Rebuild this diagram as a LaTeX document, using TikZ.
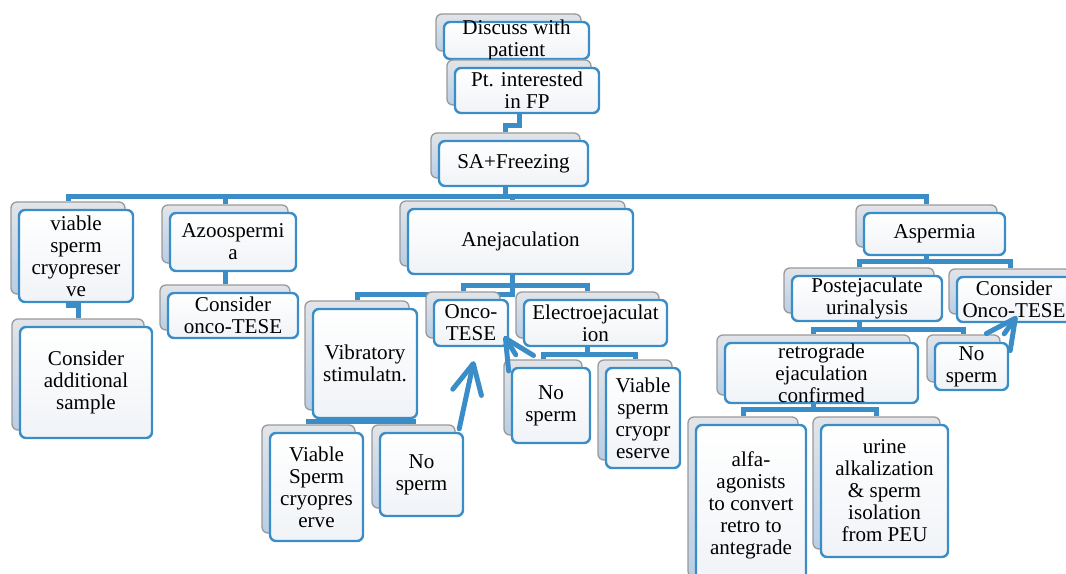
\documentclass[tikz,border=0pt]{standalone}
\usepackage{fontspec}
\setmainfont{Liberation Serif}
\usetikzlibrary{arrows.meta}
\definecolor{bl}{RGB}{59,141,199}
\definecolor{sbl}{RGB}{184,206,230}
\definecolor{sgr}{RGB}{226,229,233}
\definecolor{fgr}{RGB}{240,243,247}
\pgfdeclarelayer{bg}
\pgfsetlayers{bg,main}
\tikzset{
 backbox/.style={draw=black!40, line width=1pt, rounded corners=4.5pt, top color=sgr, bottom color=sbl, inner sep=0pt},
 frontbox/.style={draw=bl, line width=1.8pt, rounded corners=4.5pt, top color=white, bottom color=fgr, inner sep=0pt},
 txt/.style={align=center, inner sep=0pt, font=\fontsize{15.8}{16.5}\selectfont},
 conn/.style={draw=bl, line width=3.75pt},
 arr/.style={draw=bl, line width=3.75pt, line cap=round, line join=round, -{Straight Barb[length=22pt,width=22pt,line cap=round,line join=round]}}
}
\newcommand{\bx}[7][0]{%
  \node[backbox, minimum width={(#5-#3)*0.75pt}, minimum height={(#6-#4)*0.75pt}] (#2S) at ({(#3+#5)/2-8},{(#4+#6)/2-8}) {};
  \node[frontbox, minimum width={(#5-#3)*0.75pt}, minimum height={(#6-#4)*0.75pt}] (#2) at ({(#3+#5)/2},{(#4+#6)/2}) {};
  \node[txt] (#2T) at ([xshift={#1*0.75pt}]#2.center) {#7};
}
\begin{document}
\begin{tikzpicture}[x=0.75pt,y=-0.75pt]
\useasboundingbox (0,0) rectangle (1066,574);
\clip (0,0) rectangle (1066,574);
\bx{disc}{444}{22}{589}{59}{Discuss with\\patient}
\bx{pt}{455}{68}{599}{113}{Pt. interested\\in FP}
\bx{sa}{439}{141}{588}{186}{SA+Freezing}
\bx{via}{19}{210}{133}{302}{viable\\sperm\\cryopreser\\ve}
\bx{add}{20}{327}{152}{438}{Consider\\additional\\sample}
\bx{azo}{170}{213}{296}{271}{Azoospermi\\a}
\bx{cot}{168}{293}{298}{338}{Consider\\onco-TESE}
\bx{ane}{408}{209}{633}{274}{Anejaculation}
\bx{vib}{313}{309}{417}{418}{Vibratory\\stimulatn.}
\bx{onc}{434}{300}{508}{346}{Onco-\\TESE}
\bx{ele}{524}{300}{667}{346}{Electroejaculat\\ion}
\bx{vsc}{270}{433}{363}{541}{Viable\\Sperm\\cryopres\\erve}
\bx{nsa}{380}{433}{463}{516}{No\\sperm}
\bx{nsb}{512}{368}{590}{443}{No\\sperm}
\bx{vsb}{606}{368}{680}{468}{Viable\\sperm\\cryopr\\eserve}
\bx{asp}{864}{213}{1005}{255}{Aspermia}
\bx{peu}{792}{276}{942}{321}{Postejaculate\\urinalysis}
\bx[-4]{cox}{957}{277}{1079}{322}{Consider\\Onco-TESE}
\bx{ret}{725}{343}{918}{403}{retrograde\\ejaculation\\confirmed}
\bx{nsc}{935}{343}{1008}{390}{No\\sperm}
\bx{alf}{696}{425}{806}{585}{alfa-\\agonists\\to convert\\retro to\\antegrade}
\bx{uri}{821}{425}{948}{557}{urine\\alkalization\\\& sperm\\isolation\\from PEU}
\begin{pgfonlayer}{bg}
\draw[conn] (discS.south) -- ++(0,5) -| (ptS.north);
\draw[conn] (ptS.south) -- ++(0,20) -| (saS.north);
\draw[conn] (saS.south) -- ++(0,18) -| (viaS.north);
\draw[conn] (saS.south) -- ++(0,18) -| (azoS.north);
\draw[conn] (saS.south) -- ++(0,18) -| (aneS.north);
\draw[conn] (saS.south) -- ++(0,18) -| (aspS.north);
\draw[conn] (viaS.south) -- ++(0,11) -| (addS.north);
\draw[conn] (azoS.south) -- (cotS.north);
\draw[conn] (aneS.south) -- ++(0,28) -| (vibS.north);
\draw[conn] (aneS.south) -- ++(0,19) -| (oncS.north);
\draw[conn] (aneS.south) -- ++(0,19) -| (eleS.north);
\draw[conn] (vibS.south) -- ++(0,11) -| (vscS.north);
\draw[conn] (vibS.south) -- ++(0,11) -| (nsaS.north);
\draw[conn] (eleS.south) -- ++(0,16) -| (nsbS.north);
\draw[conn] (eleS.south) -- ++(0,16) -| (vsbS.north);
\draw[conn] (aspS.south) -- ++(0,14) -| (peuS.north);
\draw[conn] (aspS.south) -- ++(0,14) -| (coxS.north);
\draw[conn] (peuS.south) -- ++(0,16) -| (retS.north);
\draw[conn] (peuS.south) -- ++(0,16) -| (nscS.north);
\draw[conn] (retS.south) -- ++(0,14) -| (alfS.north);
\draw[conn] (retS.south) -- ++(0,14) -| (uriS.north);
\end{pgfonlayer}
\draw[arr] ([shift={(-5,-3)}]nsa.north east) -- ([shift={(41,14)}]onc.south west);
\draw[arr] ([shift={(5,-12)}]nsb.north west) -- ([shift={(-5,-11)}]onc.south east);
\draw[arr] ([shift={(-5,-8)}]nsc.north east) -- ([shift={(61,-7)}]cox.south west);
\end{tikzpicture}
\end{document}
